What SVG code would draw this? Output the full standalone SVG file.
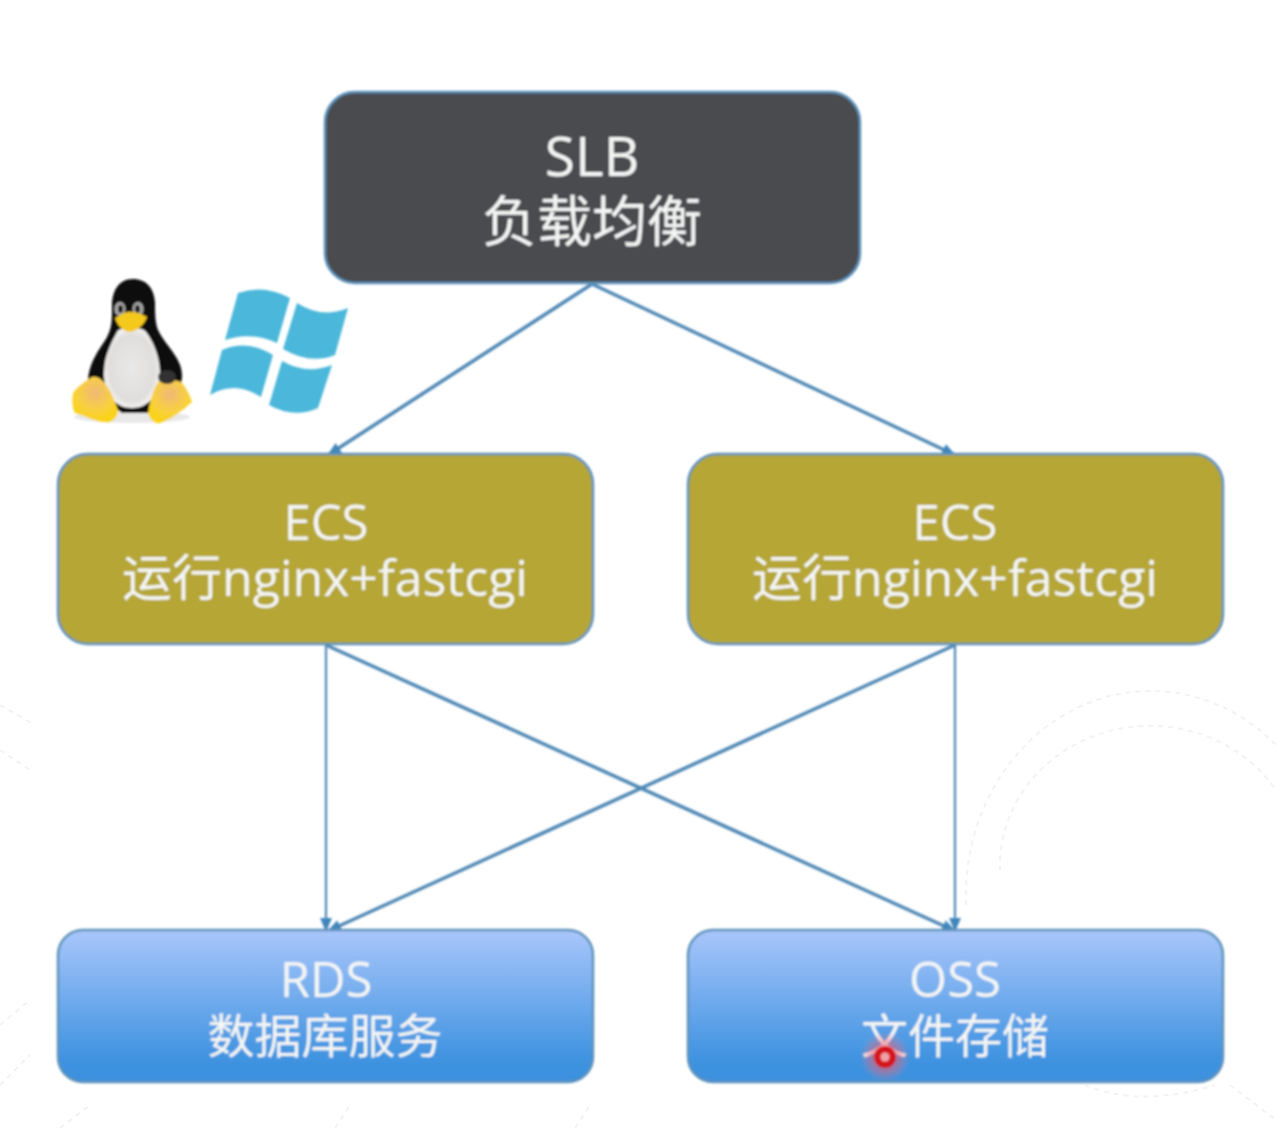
<svg xmlns="http://www.w3.org/2000/svg" width="1276" height="1128" viewBox="0 0 1276 1128">
<style>
.box{stroke:#5f93bb;stroke-width:2.5}
.t{font-family:"Open Sans","Noto Sans CJK SC","Noto Sans",sans-serif;fill:#f4f6f4;text-anchor:middle}
.big{font-size:55px}
.mid{font-size:49px}
.line2{font-size:50px}
.cjk{font-family:"Noto Sans CJK SC",sans-serif;font-weight:400}
.c{stroke:#4f88b5;stroke-width:3.500;fill:none;marker-end:url(#arr)}
.v{stroke-width:2.200}
.deco{fill:none;stroke:#f2f2f2;stroke-width:2;stroke-dasharray:5 5}
.pane{fill:#4bb7da}
</style>
<defs>
<marker id="arr" markerUnits="userSpaceOnUse" markerWidth="16" markerHeight="14" refX="13" refY="6" orient="auto"><path d="M0 0L14 6L0 12Z" fill="#3f86bb"/></marker>
<linearGradient id="blue" x1="0" y1="0" x2="0" y2="1"><stop offset="0" stop-color="#a9c6fb"/><stop offset=".85" stop-color="#3f93e0"/><stop offset="1" stop-color="#3d90de"/></linearGradient>
<radialGradient id="halo"><stop offset="0" stop-color="#f04050" stop-opacity=".75"/><stop offset=".55" stop-color="#f06070" stop-opacity=".5"/><stop offset="1" stop-color="#f08090" stop-opacity="0"/></radialGradient>
<radialGradient id="foot" cx=".5" cy=".35" r=".7"><stop offset="0" stop-color="#f0b878"/><stop offset=".55" stop-color="#f8d040"/><stop offset="1" stop-color="#fbd40a"/></radialGradient>
<radialGradient id="belly" cx=".5" cy=".5" r=".55"><stop offset="0" stop-color="#e8e8e8"/><stop offset=".75" stop-color="#e0dedc"/><stop offset="1" stop-color="#fdfdfd"/></radialGradient>
<filter id="soft" x="-5%" y="-5%" width="110%" height="110%"><feGaussianBlur stdDeviation="0.8"/></filter>
</defs>
<rect width="1276" height="1128" fill="#ffffff"/>
<g id="background-decor">
<path class="deco" d="M966 905A185 205 0 0 1 1276 745"/>
<path class="deco" d="M1000 870A150 140 0 0 1 1276 790"/>
<path class="deco" d="M1085 1085Q1140 1108 1215 1085"/>
<path class="deco" d="M0 705L35 725M0 750L30 770M0 1025L30 1000M0 1085L30 1055M60 1128L90 1105M335 1128L350 1105M575 1128L590 1105M1230 1085L1276 1120"/>
</g>
<g filter="url(#soft)">
<g id="connectors">
<line class="c" x1="592" y1="284" x2="328" y2="455"/>
<line class="c" x1="592" y1="284" x2="955" y2="455"/>
<line class="c v" x1="326" y1="645" x2="326" y2="931"/>
<line class="c" x1="326" y1="645" x2="955" y2="931"/>
<line class="c" x1="955" y1="645" x2="328" y2="931"/>
<line class="c v" x1="955" y1="645" x2="955" y2="931"/>
</g>
<g id="slb">
<rect class="box" x="325" y="92" width="535" height="191" rx="30" fill="#494b50"/>
<text class="t big"><tspan x="592" y="176">SLB</tspan><tspan class="cjk" x="592" y="241">负载均衡</tspan></text>
</g>
<g id="ecs-left">
<rect class="box" x="58" y="454" width="535" height="190" rx="30" fill="#b5a635"/>
<text class="t mid"><tspan x="326" y="540">ECS</tspan><tspan class="line2" x="325" y="596">运行nginx+fastcgi</tspan></text>
</g>
<g id="ecs-right">
<rect class="box" x="688" y="454" width="535" height="190" rx="30" fill="#b5a635"/>
<text class="t mid"><tspan x="955" y="540">ECS</tspan><tspan class="line2" x="955" y="596">运行nginx+fastcgi</tspan></text>
</g>
<g id="rds">
<rect class="box" x="58" y="930" width="535" height="152" rx="25" fill="url(#blue)"/>
<text class="t mid"><tspan x="326" y="997">RDS</tspan><tspan class="cjk" style="font-size:47px" x="325" y="1053">数据库服务</tspan></text>
</g>
<g id="oss">
<rect class="box" x="688" y="930" width="535" height="152" rx="25" fill="url(#blue)"/>
<text class="t mid"><tspan x="955" y="997">OSS</tspan><tspan class="cjk" style="font-size:47px" x="955" y="1053">文件存储</tspan></text>
</g>
<g id="linux-penguin">
<ellipse cx="132" cy="417" rx="58" ry="6" fill="#e8e8e8"/>
<path d="M133 279C118 279 112 292 112 306C112 322 112 330 104 342C96 354 88 366 88 382C88 395 100 405 118 410L122 413L150 413C170 405 182 392 182 375C182 358 165 345 158 330C155 322 155 312 155 302C154 288 146 279 133 279Z" fill="#111111"/>
<path d="M117 332C120 326 142 326 146 332C152 340 160 355 160 374C160 395 148 408 132 408C116 408 104 395 104 374C104 355 112 342 117 332Z" fill="url(#belly)"/>
<ellipse cx="120" cy="309" rx="5.500" ry="7" fill="#a8a8a8"/>
<ellipse cx="138" cy="309" rx="5.500" ry="7" fill="#a8a8a8"/>
<ellipse cx="120.500" cy="309" rx="2.500" ry="4" fill="#1c1c1c"/>
<ellipse cx="137.500" cy="309" rx="2.500" ry="4" fill="#1c1c1c"/>
<path d="M115 318C122 314 127 311 131 312C137 312 142 314 147 317C144 325 137 332 128 332C122 330 117 325 115 318Z" fill="#f5c81e"/>
<path d="M92 377C84 382 77 387 73 393C72 400 72 408 75 413C85 416 100 424 110 422C115 420 118 415 118 410C114 397 104 374 92 377Z" fill="url(#foot)"/>
<path d="M160 380C154 386 150 400 148 413C150 420 155 424 160 423C170 420 182 411 192 402C190 395 186 388 182 383C175 379 167 378 160 380Z" fill="url(#foot)"/>
<ellipse cx="167" cy="377" rx="9" ry="7" fill="#333333"/>
</g>
<g id="windows-logo">
<path class="pane" d="M238 293Q264 284 290 298L277 343Q250 331 225 340Z"/>
<path class="pane" d="M297 303Q322 319 348 308L335 355Q310 365 283 349Z"/>
<path class="pane" d="M222 350Q248 339 273 355L261 397Q235 380 210 395Z"/>
<path class="pane" d="M282 361Q307 375 332 365L318 408Q294 419 269 405Z"/>
</g>
<g id="cursor">
<circle cx="885" cy="1057" r="25" fill="url(#halo)"/>
<circle cx="885" cy="1057" r="11" fill="#d5141f"/>
<circle cx="885" cy="1057" r="4.500" fill="#f2a0a8"/>
</g>
</g>
</svg>
